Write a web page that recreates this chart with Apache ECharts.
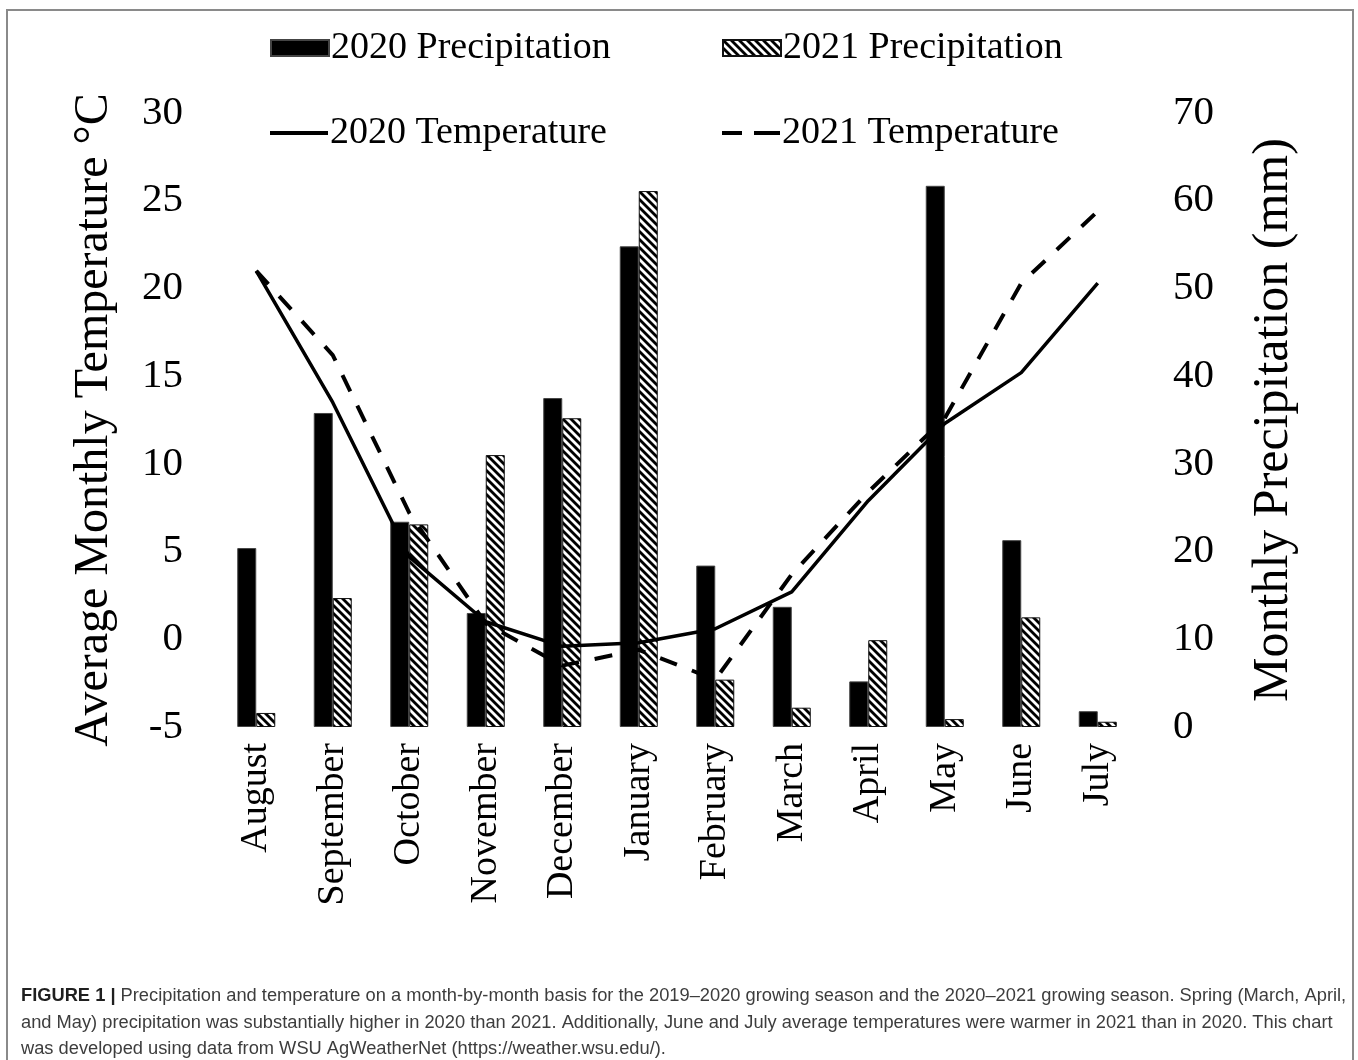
<!DOCTYPE html>
<html>
<head>
<meta charset="utf-8">
<title>Monthly precipitation and temperature</title>
<script src="https://cdn.jsdelivr.net/npm/echarts@6/dist/echarts.min.js"></script>
<style>
  html, body { margin: 0; padding: 0; background: #fff; }
  #chart { width: 1358px; height: 1060px; }
</style>
</head>
<body>
<div id="chart"></div>
<script>
// Growing-season months (August through July)
const months = ['August', 'September', 'October', 'November', 'December', 'January',
                'February', 'March', 'April', 'May', 'June', 'July'];

// Monthly precipitation (mm)
const precip2020 = [20.4, 35.8, 23.4, 13.0, 37.5, 54.8, 18.4, 13.7, 5.2, 61.7, 21.3, 1.8];
const precip2021 = [1.6, 14.7, 23.1, 31.0, 35.2, 61.1, 5.4, 2.2, 9.9, 0.9, 12.5, 0.6];

// Average monthly temperature (°C)
const temp2020 = [21.0, 13.5, 4.7, 1.0, -0.4, -0.2, 0.6, 2.7, 7.9, 12.3, 15.2, 20.3];
const temp2021 = [21.0, 16.2, 7.2, 0.9, -1.5, -0.6, -2.3, 3.7, 8.4, 12.6, 20.3, 24.4];

// Axis ranges
const tempTicks = { min: -5, max: 30, step: 5 };
const precipTicks = { min: 0, max: 70, step: 10 };

const caption =
  '{b|FIGURE 1 |} Precipitation and temperature on a month-by-month basis for the 2019\u20132020 growing season and the 2020\u20132021 growing season. Spring (March, April,\n' +
  'and May) precipitation was substantially higher in 2020 than 2021. Additionally, June and July average temperatures were warmer in 2021 than in 2020. This chart\n' +
  'was developed using data from WSU AgWeatherNet (https://weather.wsu.edu/).';

// Diagonal hatch fill for the 2021 bars
function makeHatch() {
  const c = document.createElement('canvas');
  const s = 8;
  c.width = s; c.height = s;
  const ctx = c.getContext('2d');
  ctx.fillStyle = '#fff';
  ctx.fillRect(0, 0, s, s);
  ctx.strokeStyle = '#000';
  ctx.lineWidth = 2.8;
  [-s, 0, s].forEach(k => {
    ctx.beginPath();
    ctx.moveTo(k - 2, -2);
    ctx.lineTo(k + s + 2, s + 2);
    ctx.stroke();
  });
  return c;
}
const hatch = { image: makeHatch(), repeat: 'repeat' };

const serif = 'Liberation Serif, Times New Roman, serif';
const chart = echarts.init(document.getElementById('chart'));

// One legend block per entry so the two rows / two columns line up
function legendAt(name, icon, itemHeight, left, top) {
  return {
    data: [{ name: name, icon: icon }], left: left, top: top, padding: 0,
    itemWidth: 58, itemHeight: itemHeight, itemGap: 0,
    textStyle: { fontFamily: serif, fontSize: 38, color: '#000', padding: [0, 0, 0, -3] },
    selectedMode: false
  };
}

const dashIcon = 'path://M0,0h20v4h-20zM32,0h26v4h-26z';

chart.setOption({
  backgroundColor: '#fff',
  animation: false,
  grid: { left: 218, right: 222, top: 113, bottom: 333 },
  legend: [
    legendAt('2020 Precipitation', 'rect', 16, 270, 29),
    legendAt('2021 Precipitation', 'rect', 16, 722, 29),
    legendAt('2020 Temperature', 'rect', 4, 270, 114),
    legendAt('2021 Temperature', dashIcon, 4, 722, 114)
  ],
  xAxis: {
    type: 'category',
    data: months,
    axisLine: { show: false },
    axisTick: { show: false },
    axisLabel: { rotate: 90, margin: 16, fontFamily: serif, fontSize: 38, color: '#000', interval: 0 }
  },
  yAxis: [
    {
      type: 'value',
      min: tempTicks.min, max: tempTicks.max, interval: tempTicks.step,
      position: 'left',
      name: 'Average Monthly Temperature \u00b0C',
      nameLocation: 'middle', nameGap: 100, nameRotate: 90,
      nameTextStyle: { fontFamily: serif, fontSize: 48, color: '#000' },
      axisLine: { show: false }, axisTick: { show: false }, splitLine: { show: false },
      axisLabel: { margin: 35, fontFamily: serif, fontSize: 41, color: '#000' }
    },
    {
      type: 'value',
      min: precipTicks.min, max: precipTicks.max, interval: precipTicks.step,
      position: 'right',
      name: 'Monthly Precipitation (mm)',
      nameLocation: 'middle', nameGap: 113, nameRotate: 90,
      nameTextStyle: { fontFamily: serif, fontSize: 50, color: '#000' },
      axisLine: { show: false }, axisTick: { show: false }, splitLine: { show: false },
      axisLabel: { margin: 37, fontFamily: serif, fontSize: 41, color: '#000' }
    }
  ],
  series: [
    {
      name: '2020 Precipitation', type: 'bar', yAxisIndex: 1,
      data: precip2020, barWidth: 19, barGap: '0%',
      itemStyle: { color: '#000', borderColor: '#444', borderWidth: 1 }
    },
    {
      name: '2021 Precipitation', type: 'bar', yAxisIndex: 1,
      data: precip2021, barWidth: 19, barGap: '0%',
      itemStyle: { color: hatch, borderColor: '#111', borderWidth: 1 }
    },
    {
      name: '2020 Temperature', type: 'line', yAxisIndex: 0,
      data: temp2020, symbol: 'none', z: 5,
      lineStyle: { color: '#000', width: 3.5, type: 'solid' },
      itemStyle: { color: '#000' }
    },
    {
      name: '2021 Temperature', type: 'line', yAxisIndex: 0,
      data: temp2021, symbol: 'none', z: 5,
      lineStyle: { color: '#000', width: 4, type: [18, 16] },
      itemStyle: { color: '#000' }
    }
  ],
  graphic: [
    {
      type: 'rect', silent: true,
      shape: { x: 7, y: 10, width: 1346, height: 1070 },
      style: { fill: 'none', stroke: '#8a8a8a', lineWidth: 2 }
    },
    {
      type: 'text', silent: true, left: 21, top: 983,
      style: {
        text: caption,
        fontFamily: 'Liberation Sans, Arial, sans-serif',
        fontSize: 18.3, lineHeight: 26.5,
        fill: '#3d3d3d',
        rich: {
          b: { fontFamily: 'Liberation Sans, Arial, sans-serif', fontSize: 18.3, fontWeight: 'bold', fill: '#1f1f1f', lineHeight: 26.5 }
        }
      }
    }
  ]
});
</script>
</body>
</html>
